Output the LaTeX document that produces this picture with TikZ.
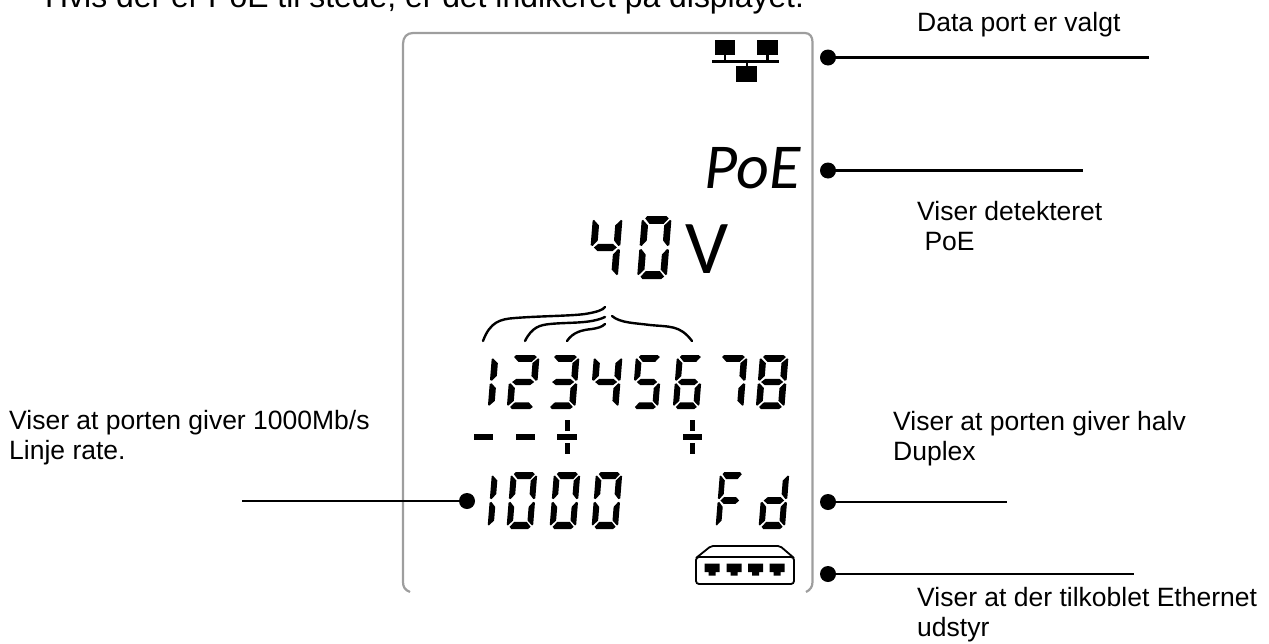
\documentclass[tikz,border=0pt]{standalone}
\usepackage{fontspec}
\setmainfont{Liberation Sans}
\newfontfamily\lcdfont{Carlito}
\def\dsega{\fill (4,0)--(18,0)--(20,1.5)--(16.5,5)--(6,5)--(2.5,1.5)--cycle;}
\def\dsegf{\fill (0,3)--(1,2.5)--(5,6)--(5,15.5)--(1.5,19)--(0,18.5)--cycle;}
\def\dsegb{\fill (22,3)--(21,2.5)--(17,6)--(17,15.5)--(20.5,19)--(22,18.5)--cycle;}
\def\dsegg{\fill (2.5,20)--(5.5,17.7)--(16.5,17.7)--(19.5,20)--(16.5,22.3)--(5.5,22.3)--cycle;}
\def\dsege{\fill (0,37)--(1,37.5)--(5,34)--(5,24.5)--(1.5,21)--(0,21.5)--cycle;}
\def\dsegc{\fill (22,37)--(21,37.5)--(17,34)--(17,24.5)--(20.5,21)--(22,21.5)--cycle;}
\def\dsegd{\fill (4,40)--(18,40)--(20,38.5)--(16.5,35)--(6,35)--(2.5,38.5)--cycle;}
\newcommand{\segdigit}[5]{\begin{scope}[shift={(#1,#2)},xslant=0.08,xscale=#3,yscale=#4]
\foreach \s in {#5} {\csname dseg\s\endcsname}
\end{scope}}
\tikzset{
  label text/.style={anchor=base west,inner sep=0pt,align=left,font=\fontsize{26.5}{30}\selectfont,text=black},
  head text/.style={anchor=base west,inner sep=0pt,font=\fontsize{31.9}{36}\selectfont,text=black},
  dot/.style={circle,fill=black,draw=none,minimum size=16pt,inner sep=0pt},
  leader/.style={draw=black,line width=2.4pt},
  frame line/.style={draw=black!38,line width=2.2pt},
  bracket/.style={draw=black,line width=2.4pt,line cap=round},
  lcd text/.style={inner sep=0pt,text=black,font=\lcdfont},
  port/.style={fill=black}
}
\begin{document}
\begin{tikzpicture}[x=1pt,y=-1pt]
\useasboundingbox (0,0) rectangle (1269,643);
% heading
\node[head text] (head) at (45,7) {Hvis der er PoE til stede, er det indikeret på displayet.};
% frame
\draw[frame line] (410,592) .. controls (405,590) and (403,587) .. (403,582) -- (403,44)
  .. controls (403,37) and (407,33) .. (413,33) -- (805,33)
  .. controls (810,33) and (812.5,37) .. (812.5,42) -- (812.5,582)
  .. controls (812.5,587) and (810,590) .. (806,592);
% network icon
\fill (715,40) rectangle (735,55);
\fill (757,40) rectangle (778,55);
\fill (736,66) rectangle (757,82);
\fill (712,60) rectangle (779,62.5);
\fill (723.5,55) rectangle (726,60);
\fill (766,55) rectangle (768.5,60);
\fill (745.5,62) rectangle (748,66);
% PoE and V
\node[lcd text,anchor=base east,font=\lcdfont\itshape\fontsize{64}{64}\selectfont] (poe) at (801,188) {PoE};
\node[lcd text,anchor=base,font=\lcdfont\fontsize{76}{76}\selectfont] (volt) at (707,273) {V};
% 40
\segdigit{593}{216}{1.35}{1.575}{f,b,g,c}
\segdigit{642}{216}{1.35}{1.575}{a,b,c,d,e,f}
% brackets
\draw[bracket] (483,341) .. controls (490,322) and (500,319) .. (515,318) .. controls (540,316) and (570,316) .. (585,314) .. controls (597,312) and (603,310) .. (605,307);
\draw[bracket] (525,341) .. controls (532,327) and (540,325) .. (550,324) .. controls (570,322) and (590,324) .. (605,317);
\draw[bracket] (567,341) .. controls (573,332) and (582,330) .. (592,329) .. controls (598,328) and (602,327) .. (605,324);
\draw[bracket] (612,316) .. controls (620,323) and (635,323) .. (650,325) .. controls (670,327) and (680,325) .. (692,341);
% row of digits
\segdigit{492}{355}{1.3}{1.35}{f,e}
\segdigit{511}{355}{1.3}{1.35}{a,b,g,e,d}
\segdigit{551}{355}{1.3}{1.35}{a,b,g,c,d}
\segdigit{594}{355}{1.3}{1.35}{f,b,g,c}
\segdigit{636}{355}{1.2}{1.35}{a,f,g,c,d}
\segdigit{677}{355}{1.2}{1.35}{a,f,g,e,c,d}
\segdigit{719}{355}{1.3}{1.35}{a,b,c}
\segdigit{760}{355}{1.3}{1.35}{a,b,c,d,e,f,g}
% polarity marks
\fill (474,434) rectangle (493,440);
\fill (516,434) rectangle (535,440);
\fill (557,434) rectangle (577,440);
\fill (564.5,420) rectangle (569.5,431);
\fill (564.5,443) rectangle (569.5,454);
\fill (683,434) rectangle (702,440);
\fill (690,420) rectangle (695,431);
\fill (690,443) rectangle (695,454);
% 1000 Fd
\segdigit{492}{472}{1.2}{1.425}{f,e}
\segdigit{511}{472}{1.2}{1.425}{a,b,c,d,e,f}
\segdigit{554}{472}{1.2}{1.425}{a,b,c,d,e,f}
\segdigit{596}{472}{1.2}{1.425}{a,b,c,d,e,f}
\segdigit{720}{472}{1.1}{1.425}{a,f,g,e}
\segdigit{763}{472}{1.2}{1.425}{b,c,d,e,g}
% switch icon
\draw[black,line width=1.8pt,rounded corners=3pt] (696,557) rectangle (794,584);
\draw[black,line width=1.8pt,rounded corners=2pt] (696,558) -- (711,546) -- (780,546) -- (794,558);
\foreach \px in {712,734,755.5,777}{
  \fill[port] (\px-7.5,563.5) -- (\px+7.5,563.5) -- (\px+7.5,572) -- (\px+3.5,572) -- (\px+3.5,575.5) -- (\px-3.5,575.5) -- (\px-3.5,572) -- (\px-7.5,572) -- cycle;
}
% connectors
\node[dot] (d1) at (828,57.5) {};
\coordinate (e1) at (1149,57.5);
\draw[leader] (d1) -- (e1);
\node[dot] (d2) at (828,170.5) {};
\coordinate (e2) at (1083,170.5);
\draw[leader] (d2) -- (e2);
\node[dot] (d3) at (828,502) {};
\coordinate (e3) at (1007,502);
\draw[leader] (d3) -- (e3);
\node[dot] (d4) at (828,574) {};
\coordinate (e4) at (1134,574);
\draw[leader] (d4) -- (e4);
\node[dot] (d5) at (467,501) {};
\coordinate (e5) at (242,501);
\draw[leader] (d5) -- (e5);
% labels
\node[label text] (l1) at (917,31) {Data port er valgt};
\node[label text,anchor=north west] (l2) at (917,201) {Viser detekteret\\\ PoE};
\node[label text,anchor=north west] (l3) at (9,410) {Viser at porten giver 1000Mb/s\\Linje rate.};
\node[label text,anchor=north west] (l4) at (893,411) {Viser at porten giver halv\\Duplex};
\node[label text,anchor=north west] (l5) at (917,587.5) {Viser at der tilkoblet Ethernet\\udstyr};
\end{tikzpicture}
\end{document}
